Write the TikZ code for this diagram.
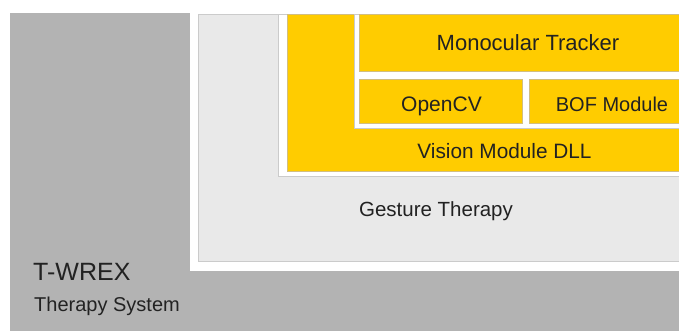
\documentclass[tikz,border=0pt]{standalone}
\usepackage{fontspec}
\setmainfont{Liberation Sans}
\begin{document}
\begin{tikzpicture}[x=1pt,y=-1pt,
  layer/.style={draw=none, rectangle, inner sep=0pt, anchor=north west},
  frame/.style={fill=white, draw=edgegray, line width=1.2pt, rectangle, inner sep=0pt, anchor=north west},
  panel/.style={fill=panelgray, draw=edgegray, line width=1.2pt, rectangle, inner sep=0pt, anchor=north west},
  module/.style={fill=modyellow, draw=yedge, line width=0.9pt, rectangle, inner sep=0pt, anchor=north west},
  lbl/.style={text=ink, inner sep=0pt, anchor=base},
]
\definecolor{basegray}{HTML}{B3B3B3}
\definecolor{panelgray}{HTML}{E9E9E9}
\definecolor{edgegray}{HTML}{CBCBCB}
\definecolor{modyellow}{HTML}{FFCC00}
\definecolor{yedge}{HTML}{D2BE80}
\definecolor{ink}{HTML}{222222}

\useasboundingbox (0,0) rectangle (679,330);
\clip (0,0) rectangle (679,330);

% T-WREX therapy system (outer layer)
\node[layer, fill=basegray, minimum width=700pt, minimum height=340pt] (twrex) at (10,13) {};
% Gesture Therapy: white margin and panel
\node[layer, fill=white, minimum width=520pt, minimum height=258pt] (gtframe) at (190,13) {};
\node[panel, minimum width=510pt, minimum height=247.5pt] (gesture) at (197.5,13.5) {};
% Vision Module DLL
\node[frame, minimum width=420pt, minimum height=162.5pt] (visframe) at (278,13.5) {};
\node[module, minimum width=420pt, minimum height=157.5pt] (vision) at (287,13.5) {};
% Monocular tracker group
\node[frame, minimum width=350pt, minimum height=114.5pt] (mtframe) at (354,13.5) {};
\node[module, minimum width=340pt, minimum height=57.5pt] (tracker) at (359,13.5) {};
\node[module, minimum width=163pt, minimum height=44pt] (opencv) at (359,79) {};
\node[module, minimum width=170pt, minimum height=44pt] (bof) at (529,79) {};

% Labels
\node[lbl, font=\fontsize{22}{24}\selectfont] (trackertxt) at (528,50.7) {Monocular Tracker};
\node[lbl, font=\fontsize{21}{23}\selectfont] (opencvtxt) at (441.5,111.7) {OpenCV};
\node[lbl, font=\fontsize{20}{22}\selectfont] (boftxt) at (612,111.7) {BOF Module};
\node[lbl, font=\fontsize{20.8}{23}\selectfont] (visiontxt) at (504.5,158.3) {Vision Module DLL};
\node[lbl, font=\fontsize{20.5}{23}\selectfont] (gesturetxt) at (436,216.7) {Gesture Therapy};
\node[lbl, anchor=base west, font=\fontsize{25}{28}\selectfont] (twrextxt) at (33,280) {T-WREX};
\node[lbl, anchor=base west, font=\fontsize{20}{22}\selectfont] (systxt) at (34,311.7) {Therapy System};
\end{tikzpicture}
\end{document}
